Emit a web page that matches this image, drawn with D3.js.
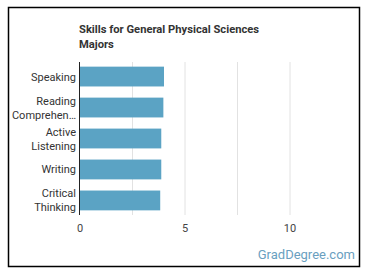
<!DOCTYPE html>
<html>
<head>
<meta charset="utf-8">
<script src="https://cdn.jsdelivr.net/npm/d3@7"></script>
<style>
  body { margin: 0; background: #fff; }
  text { font-family: Roboto, "Open Sans", sans-serif; }
</style>
</head>
<body>
<div id="chart"></div>
<script>
var width = 370;
var height = 278;

var skills = [['Speaking'], ['Reading', 'Comprehen…'], ['Active', 'Listening'], ['Writing'], ['Critical', 'Thinking']];
var scores = [4.0, 3.97, 3.87, 3.87, 3.82];
var tickValues = [0, 5, 10];
var gridValues = [2.5, 5, 7.5, 10];

var margin = { top: 62, left: 79, right: 29, bottom: 63 };

var svg = d3.select('#chart')
    .append('svg')
    .attr('width', width)
    .attr('height', height);

// outer frame
svg.append('rect')
    .attr('x', 8.5)
    .attr('y', 7.5)
    .attr('width', 351)
    .attr('height', 259)
    .attr('fill', '#fff')
    .attr('stroke', '#000')
    .attr('stroke-width', 1.5);

var title = svg.append('text')
    .attr('x', 79)
    .attr('y', 33)
    .style('font-size', '11.2px')
    .style('font-weight', 'bold')
    .style('fill', '#333');
title.append('tspan').attr('x', 79).text('Skills for General Physical Sciences');
title.append('tspan').attr('x', 79).attr('dy', 15).text('Majors');

var x = d3.scaleLinear()
    .domain([0, 12.5])
    .range([margin.left + 1, margin.left + 1 + 262.5]);

var y = d3.scaleBand()
    .domain(d3.range(skills.length))
    .range([margin.top, height - margin.bottom])
    .paddingInner(0.36)
    .paddingOuter(0.15);

// gridlines
svg.append('g')
    .selectAll('line')
    .data(gridValues)
    .enter()
    .append('line')
    .attr('x1', function (d) { return x(d); })
    .attr('x2', function (d) { return x(d); })
    .attr('y1', margin.top)
    .attr('y2', height - margin.bottom)
    .attr('stroke', '#e2e2e2')
    .attr('stroke-width', 1);

svg.append('g')
    .selectAll('rect')
    .data(scores)
    .enter()
    .append('rect')
    .attr('x', x(0))
    .attr('y', function (d, i) { return y(i); })
    .attr('width', function (d) { return x(d) - x(0); })
    .attr('height', y.bandwidth())
    .attr('fill', '#5ba3c4');

// y axis line
svg.append('line')
    .attr('x1', margin.left + 0.5)
    .attr('x2', margin.left + 0.5)
    .attr('y1', margin.top)
    .attr('y2', height - margin.bottom)
    .attr('stroke', '#222')
    .attr('stroke-width', 1);

// category labels
svg.append('g')
    .selectAll('text')
    .data(skills)
    .enter()
    .append('text')
    .attr('text-anchor', 'end')
    .style('font-size', '11px')
    .style('fill', '#333')
    .each(function (d, i) {
        var cy = y(i) + y.bandwidth() / 2;
        var t = d3.select(this);
        var start = cy + 4 - (d.length - 1) * 7;
        d.forEach(function (line, j) {
            t.append('tspan')
                .attr('x', 76)
                .attr('y', start + j * 14)
                .text(line);
        });
    });

// x tick labels
svg.append('g')
    .selectAll('text')
    .data(tickValues)
    .enter()
    .append('text')
    .attr('x', function (d) { return x(d); })
    .attr('y', 232)
    .attr('text-anchor', 'middle')
    .style('font-size', '11px')
    .style('fill', '#444')
    .text(function (d) { return d; });

svg.append('text')
    .attr('x', 355)
    .attr('y', 259)
    .attr('text-anchor', 'end')
    .style('font-size', '13px')
    .style('fill', '#6a9fbf')
    .text('GradDegree.com');
</script>
</body>
</html>
